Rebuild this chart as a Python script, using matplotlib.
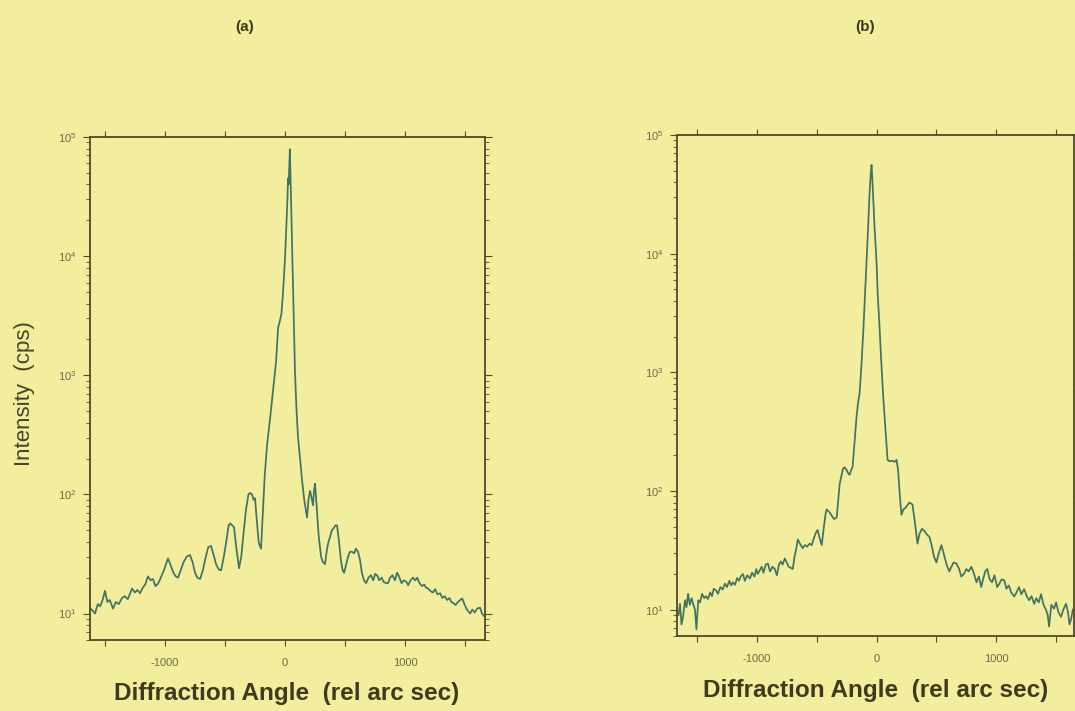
import matplotlib
matplotlib.use("Agg")
import matplotlib.pyplot as plt
from matplotlib.ticker import LogLocator, FixedLocator, FixedFormatter, NullFormatter

# ---------------- data ----------------
angle_a = [-1640,-1620,-1600,-1583,-1560,-1540,-1520,-1500,-1480,-1460,-1433,-1410,-1385,-1358,
           -1335,-1310,-1275,-1250,-1230,-1208,-1185,-1165,-1142,-1120,-1100,-1080,-1058,-1035,
           -1010,-975,-950,-930,-910,-892,-870,-845,-820,-792,-770,-750,-730,-708,-685,-660,-640,
           -617,-595,-575,-553,-533,-510,-490,-470,-458,-440,-425,-405,-383,-365,-345,-325,-305,
           -292,-275,-262,-250,-235,-220,-210,-200,-185,-170,-150,-125,-100,-75,-58,-42,-30,-20,
           -10,0,10,20,25,30,35,40,45,50,60,70,83,95,108,125,142,160,183,195,208,220,233,242,250,
           265,280,300,315,333,350,362,375,390,405,420,433,450,465,480,492,510,525,540,558,575,590,
           608,625,640,658,675,695,715,735,750,767,785,805,820,840,858,875,895,915,933,950,970,990,
           1010,1025,1045,1065,1085,1100,1120,1140,1160,1175,1192,1210,1230,1250,1270,1292,1310,
           1330,1350,1370,1385,1400,1420,1440,1460,1475,1495,1510,1525,1542,1560,1580,1600,1625,
           1640,1655]
counts_a = [12,11,10.5,10,12,11.5,13,15.5,12.5,13,11,12.5,12,13.5,
            14,13.2,16.2,15,15.8,14.8,16.5,17.5,20.5,19,19.5,17,17.8,20,
            23,29,25,22,20.5,20,23,27,30,31,27,22,20,19.5,23,30,36,
            37,31,26,23.5,23,30,40,55,57,55,53,35,24,30,48,75,100,
            103,100,90,93,60,40,37,35,70,140,260,430,750,1300,2500,2900,3300,4500,
            6500,9800,17000,30000,45000,40000,55000,79000,50000,29000,10700,3900,1050,520,300,200,130,90,64,90,107,95,81,110,123,
            75,45,30,27,26,35,40,44,50,52,55,55,40,28,23,22,26,30,33,33,32,35,
            33,28,22,19,18,20,21,19,21.5,21,19,20,18.5,18,18,20,21,19,22,20.5,18,19,
            18.5,17.3,19,20,19,20,18,17,17.5,16.5,16.2,15.5,15,16,14.5,14.8,13.5,
            14,13,13.5,12.5,12.3,11.8,12.5,13,13.4,12,11,10.5,10,10.8,10.2,11,11.2,
            10,9.6]

angle_b = [-1655,-1642,-1630,-1617,-1600,-1588,-1575,-1560,-1545,-1530,-1517,-1505,-1490,-1475,
           -1458,-1440,-1425,-1408,-1390,-1375,-1360,-1340,-1325,-1305,-1285,-1267,-1250,-1230,
           -1215,-1200,-1183,-1165,-1150,-1135,-1117,-1100,-1080,-1058,-1040,-1020,-1005,-992,
           -975,-960,-945,-925,-908,-890,-870,-850,-833,-815,-800,-785,-767,-750,-735,-715,-700,
           -685,-670,-658,-640,-625,-617,-600,-580,-560,-542,-520,-505,-492,-475,-458,-440,-425,
           -417,-405,-392,-375,-355,-333,-320,-308,-290,-280,-267,-250,-235,-225,-212,-200,-185,
           -167,-155,-142,-125,-110,-95,-83,-70,-60,-50,-42,-35,-25,-17,0,10,25,40,55,67,80,92,
           110,130,150,167,180,195,208,225,240,258,275,300,320,342,360,380,400,420,442,460,480,
           500,520,542,560,585,608,625,645,667,690,708,730,750,770,792,815,835,855,875,890,908,
           925,945,965,985,1008,1025,1045,1067,1085,1105,1125,1150,1170,1190,1210,1233,1255,1275,
           1295,1317,1335,1355,1375,1395,1415,1430,1442,1460,1483,1500,1520,1542,1560,1583,1600,
           1612,1625,1640]
counts_b = [9,11.2,7.5,8.7,12,10.5,13.6,11,12.5,11,10,6.8,12,11.5,
            13.6,12.5,13,12.3,14,13,15,14.5,13.6,15.5,14.8,16.6,15.5,17.5,
            16,17,16.2,18.5,17.5,19,20,17.5,19.5,18.3,20.5,19,22,20,
            21.5,23,20.5,24,24.5,21,23,22,19.5,24,25.5,24,27,25,23,22.5,22,
            28,33,39,36,34,33,35,34,36,35,41,45,47,40,35,50,65,
            70,68,66,62,58,60,85,115,140,155,158,150,140,137,150,160,250,
            425,550,660,1200,2300,5000,8900,17000,30000,45000,56000,42000,25000,17000,8500,4500,2400,1200,640,425,280,183,
            178,180,176,183,150,90,63,70,72,76,80,77,55,36,44,48,46,43,41,35,28,
            25,30,35,30,24,21,23,25,24.5,22,19,20,22,21,23,20,17,19,15.5,18,21,
            22,18,17,19.5,15.5,16.5,18,17.7,15,16,14,12.9,14,15.5,13.5,14.9,13,12,
            13,11.2,12.5,11.5,13.5,11,10,9,7.2,11,10.2,11.5,9.5,8.7,10,11.2,9.5,
            7.5,8.3,10]

panel_titles = ["(a)", "(b)"]
x_tick_values = [-1500, -1000, -500, 0, 500, 1000, 1500]
x_tick_labels = ["", "-1000", "", "0", "", "1000", ""]
xlabel_text = "Diffraction Angle  (rel arc sec)"
ylabel_text = "Intensity  (cps)"

# ---------------- style ----------------
BG = "#f3ed9e"
LINE = "#3f7463"
SPINE = "#4e4a28"
TICKTXT = "#6d6a48"
TXT = "#3e3a1c"

plt.rcParams['font.family'] = ['Liberation Sans', 'DejaVu Sans']

fig = plt.figure(figsize=(10.75, 7.11), dpi=100, facecolor=BG)

ax_a = fig.add_axes([0.0837, 0.0999, 0.3674, 0.7074])
ax_b = fig.add_axes([0.6298, 0.1055, 0.3693, 0.7046])

for ax, xs, ys, xlim in [(ax_a, angle_a, counts_a, (-1625, 1665)),
                         (ax_b, angle_b, counts_b, (-1667, 1650))]:
    ax.set_facecolor(BG)
    ax.plot(xs, ys, color=LINE, lw=1.25)
    ax.set_yscale('log')
    ax.set_ylim(6, 1e5)
    ax.set_xlim(*xlim)
    ax.xaxis.set_major_locator(FixedLocator(x_tick_values))
    ax.xaxis.set_major_formatter(FixedFormatter(x_tick_labels))
    ax.yaxis.set_major_locator(LogLocator(base=10, numticks=10))
    ax.yaxis.set_minor_locator(LogLocator(base=10, subs=range(2, 10), numticks=20))
    ax.yaxis.set_minor_formatter(NullFormatter())
    for s in ax.spines.values():
        s.set_color(SPINE)
        s.set_linewidth(1.3)
    ax.tick_params(which='both', direction='out', top=True, right=True,
                   color=SPINE, labelcolor=TICKTXT, labelsize=8)
    ax.tick_params(axis='x', which='major', length=4, pad=9)
    ax.tick_params(axis='y', which='major', length=5, pad=5)
    ax.tick_params(axis='y', which='minor', length=3)

ax_a.set_ylabel(ylabel_text, fontsize=16, color="#47452a")
ax_a.yaxis.set_label_coords(-0.14, 0.49)

fig.text(0.267, 0.024, xlabel_text, fontsize=17.5, fontweight='bold', color=TXT,
         ha='center', va='center')
fig.text(0.815, 0.0295, xlabel_text, fontsize=17.5, fontweight='bold', color=TXT,
         ha='center', va='center')
fig.text(0.228, 0.962, panel_titles[0], fontsize=11, fontweight='bold', color=TXT,
         ha='center', va='center')
fig.text(0.805, 0.962, panel_titles[1], fontsize=11, fontweight='bold', color=TXT,
         ha='center', va='center')

fig.savefig("out.png", dpi=100, facecolor=BG)
